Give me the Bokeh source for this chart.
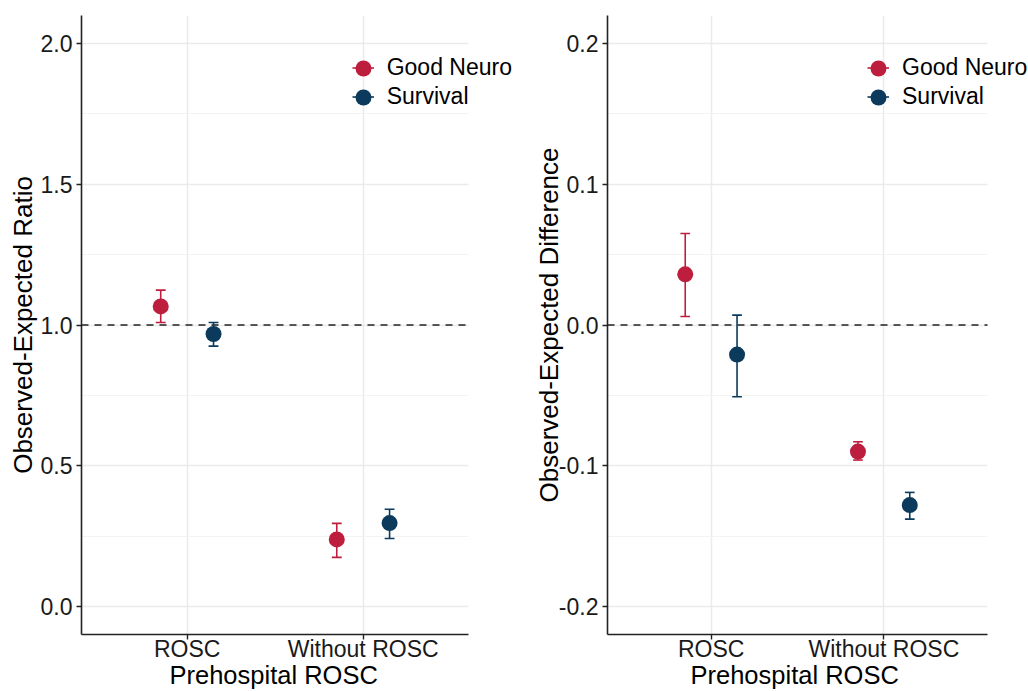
from bokeh.plotting import figure
from bokeh.layouts import row
from bokeh.models import (ColumnDataSource, Range1d, FixedTicker, PrintfTickFormatter,
                          Legend, LegendItem, Title)
from bokeh.transform import dodge
from bokeh.embed import file_html
from bokeh.resources import INLINE

# ---------------- data ----------------
categories = ["ROSC", "Without ROSC"]
series = ["Good Neuro", "Survival"]
colors = ["#BE1E3E", "#0B3A5C"]

ratio_good = [1.066, 0.238]
ratio_good_lo = [1.009, 0.174]
ratio_good_hi = [1.124, 0.295]
ratio_surv = [0.968, 0.296]
ratio_surv_lo = [0.925, 0.241]
ratio_surv_hi = [1.009, 0.345]

diff_good = [0.036, -0.090]
diff_good_lo = [0.006, -0.096]
diff_good_hi = [0.065, -0.083]
diff_surv = [-0.021, -0.128]
diff_surv_lo = [-0.051, -0.138]
diff_surv_hi = [0.007, -0.119]

ratio_ticks = [0.0, 0.5, 1.0, 1.5, 2.0]
ratio_minor = [0.25, 0.75, 1.25, 1.75]
diff_ticks = [-0.2, -0.1, 0.0, 0.1, 0.2]
diff_minor = [-0.15, -0.05, 0.05, 0.15]

x_title = "Prehospital ROSC"

FONT = "Liberation Sans"
DODGE = [-0.15, 0.15]
CAP = 0.028
XLO, XHI = 0.4, 2.6          # panel x extent (data units)
FIG_H = 691
MB_TOP = 15
MB_BOT = 57
FRAME_H = FIG_H - MB_TOP - MB_BOT
ROW1 = 52.7                  # legend first-row centre below frame top (px)
ROW_PITCH = 29


def make_panel(ylabel, y_start, y_end, ticks, minor, ref, data, width, mbl, axis_px,
               circle_cx, title_off, ylab_standoff):
    frame_w = width - mbl
    x_end = XLO + (XHI - XLO) * frame_w / axis_px
    p = figure(width=width, height=FIG_H, output_backend="svg", toolbar_location=None,
               x_range=Range1d(XLO, x_end), y_range=Range1d(y_start, y_end),
               min_border_left=mbl, min_border_right=0,
               min_border_top=MB_TOP, min_border_bottom=MB_BOT)
    p.outline_line_color = None
    p.background_fill_color = "white"
    p.border_fill_color = "white"

    # axes
    p.xaxis.ticker = FixedTicker(ticks=[i + 1 for i in range(len(categories))])
    p.xaxis.major_label_overrides = {i + 1: c for i, c in enumerate(categories)}
    p.xaxis.bounds = (XLO, XHI)
    p.yaxis.ticker = FixedTicker(ticks=ticks, minor_ticks=minor)
    p.yaxis.formatter = PrintfTickFormatter(format="%.1f")
    for ax in (p.xaxis[0], p.yaxis[0]):
        ax.axis_line_color = "#222222"
        ax.axis_line_width = 1.6
        ax.major_tick_line_color = "#222222"
        ax.major_tick_line_width = 1.4
        ax.major_tick_out = 5
        ax.major_tick_in = 0
        ax.minor_tick_out = 0
        ax.minor_tick_in = 0
        ax.major_label_text_font = FONT
        ax.major_label_text_font_size = "23px"
        ax.major_label_text_color = "#1a1a1a"
        ax.axis_label_text_font = FONT
        ax.axis_label_text_font_size = "26px"
        ax.axis_label_text_font_style = "normal"
        ax.axis_label_text_color = "#000000"
    p.xaxis.major_label_standoff = -4
    p.yaxis.axis_label = ylabel
    p.yaxis.major_label_standoff = 4
    p.yaxis.axis_label_standoff = ylab_standoff

    # x-axis title, aligned to the axis extent rather than the whole frame
    p.add_layout(Title(text=x_title, align="left", vertical_align="top",
                       offset=title_off, standoff=-7,
                       text_font=FONT, text_font_size="25.5px", text_font_style="normal",
                       text_color="#000000"), "below")

    # grid
    p.xgrid.grid_line_color = "#EBEBEB"
    p.xgrid.grid_line_width = 1.5
    p.ygrid.grid_line_color = "#EBEBEB"
    p.ygrid.grid_line_width = 1.5
    p.ygrid.minor_grid_line_color = "#F3F3F3"
    p.ygrid.minor_grid_line_width = 1.0
    p.ygrid.cross_bounds = (XLO, XHI)

    # reference line
    p.segment(x0=[XLO], x1=[XHI], y0=[ref], y1=[ref], line_color="#222222",
              line_width=1.5, line_dash="7 6")

    pos = [i + 1 for i in range(len(categories))]
    stems, pts = [], []
    for (y, lo, hi), off, col in zip(data, DODGE, colors):
        src = ColumnDataSource(dict(pos=pos, y=y, lo=lo, hi=hi))
        st = p.segment(x0=dodge("pos", off), x1=dodge("pos", off), y0="lo", y1="hi",
                       source=src, line_color=col, line_width=1.6)
        p.segment(x0=dodge("pos", off - CAP), x1=dodge("pos", off + CAP), y0="hi", y1="hi",
                  source=src, line_color=col, line_width=1.6)
        p.segment(x0=dodge("pos", off - CAP), x1=dodge("pos", off + CAP), y0="lo", y1="lo",
                  source=src, line_color=col, line_width=1.6)
        pt = p.scatter(x=dodge("pos", off), y="y", source=src, size=16,
                       fill_color=col, line_color=None)
        stems.append(st)
        pts.append(pt)

    # legend: narrow line keys underneath, one legend per row for circle + label
    b_top = ROW1 - ROW_PITCH / 2
    legB = Legend(items=[LegendItem(label=" ", renderers=[s]) for s in stems],
                  location=(circle_cx - 11, FRAME_H - b_top - 2 * ROW_PITCH),
                  glyph_width=22, glyph_height=ROW_PITCH, spacing=0, padding=0, margin=0,
                  label_standoff=0, label_width=0, label_height=0,
                  label_text_font_size="1px", background_fill_alpha=0,
                  border_line_alpha=0)
    p.add_layout(legB, "center")
    for i, (s, r) in enumerate(zip(series, pts)):
        top = ROW1 + i * ROW_PITCH - 20
        legA = Legend(items=[LegendItem(label=s, renderers=[r])],
                      location=(circle_cx - 20, FRAME_H - top - 40),
                      glyph_width=40, glyph_height=40, spacing=0, padding=0, margin=0,
                      label_standoff=4, label_text_font=FONT, label_text_font_size="23px",
                      label_text_color="#000000", background_fill_alpha=0,
                      border_line_alpha=0)
        p.add_layout(legA, "center")
    return p


p1 = make_panel("Observed-Expected Ratio", -0.1, 2.1, ratio_ticks, ratio_minor, 1.0,
                [(ratio_good, ratio_good_lo, ratio_good_hi),
                 (ratio_surv, ratio_surv_lo, ratio_surv_hi)],
                width=520, mbl=81, axis_px=387.3, circle_cx=281.7,
                title_off=88, ylab_standoff=0)
p2 = make_panel("Observed-Expected Difference", -0.22, 0.22, diff_ticks, diff_minor, 0.0,
                [(diff_good, diff_good_lo, diff_good_hi),
                 (diff_surv, diff_surv_lo, diff_surv_hi)],
                width=508, mbl=87, axis_px=380.0, circle_cx=271.0,
                title_off=83, ylab_standoff=-8)

layout = row(p1, p2)
open("out.html", "w").write(file_html(layout, INLINE))
